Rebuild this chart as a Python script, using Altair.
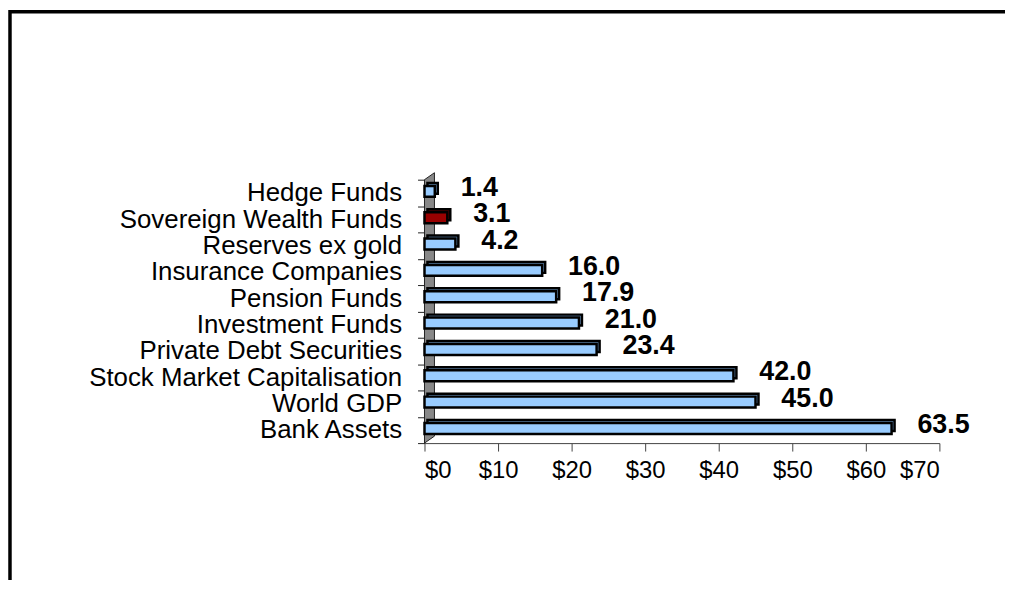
import altair as alt
import pandas as pd

categories = ["Hedge Funds", "Sovereign Wealth Funds", "Reserves ex gold",
              "Insurance Companies", "Pension Funds", "Investment Funds",
              "Private Debt Securities", "Stock Market Capitalisation",
              "World GDP", "Bank Assets"]
values = [1.4, 3.1, 4.2, 16.0, 17.9, 21.0, 23.4, 42.0, 45.0, 63.5]
highlight = ["Sovereign Wealth Funds"]
x_ticks = [0, 10, 20, 30, 40, 50, 60, 70]

df = pd.DataFrame({"category": categories, "value": values})
df["label"] = [f"{v:.1f}" for v in values]
df["kind"] = ["swf" if c in highlight else "other" for c in categories]

W, H = 518, 265
FONT = "Liberation Sans"

yenc = alt.Y("category:N", sort=categories,
             scale=alt.Scale(paddingInner=0, paddingOuter=0),
             axis=alt.Axis(title=None, labelFont=FONT, labelFontSize=26,
                           labelColor="black", labelPadding=16, tickSize=7,
                           tickBand="extent", tickColor="#222", tickWidth=1,
                           domain=False, labelLimit=600))
xenc = alt.X("value:Q", scale=alt.Scale(domain=[0, 70], nice=False),
             axis=alt.Axis(title=None, values=x_ticks,
                           labelExpr="'$' + datum.value", labelFont=FONT,
                           labelFontSize=24, labelColor="black", tickSize=8,
                           tickColor="#444", domainColor="#444", grid=False,
                           labelPadding=8))

base = alt.Chart(df)

frame = alt.Chart(pd.DataFrame({"a": [0]})).mark_rect(
    fill="transparent", stroke="black", strokeWidth=3.5, clip=False
).encode(x=alt.value(-417), x2=alt.value(W + 400),
         y=alt.value(-169), y2=alt.value(H + 400))

wall_path = "M-0.0368,-0.9485 L0.0368,-1 L0.0368,0.9485 L-0.0368,1 Z"
wall = alt.Chart(pd.DataFrame({"a": [0]})).mark_point(
    shape=wall_path, size=73984, filled=True, fill="#888888", opacity=1,
    stroke="#222", strokeWidth=1
).encode(x=alt.value(5), y=alt.value(129))

back = base.mark_bar(size=11, stroke="black", strokeWidth=2.5,
                     xOffset=3, yOffset=-4.5).encode(
    x=xenc, y=yenc,
    fill=alt.condition(alt.datum.kind == "swf", alt.value("#600000"),
                       alt.value("#6F9FCF")))

front = base.mark_bar(size=11, stroke="black", strokeWidth=2.5,
                      yOffset=-1.5).encode(
    x="value:Q", y=alt.Y("category:N", sort=categories),
    fill=alt.condition(alt.datum.kind == "swf", alt.value("#990000"),
                       alt.value("#99CCFF")))

labels = base.mark_text(align="left", baseline="middle", dx=26, dy=-5,
                        font=FONT, fontSize=27, fontWeight="bold",
                        color="black").encode(
    x="value:Q", y=alt.Y("category:N", sort=categories), text="label:N")

chart = alt.layer(frame, wall, back, front, labels).properties(
    width=W, height=H,
    autosize=alt.AutoSizeParams(type="none"),
    padding={"left": 419, "top": 171, "right": 66, "bottom": 136},
    background="white",
).configure_view(stroke=None)

chart.save("out.html", embed_options={"renderer": "svg", "actions": False})
